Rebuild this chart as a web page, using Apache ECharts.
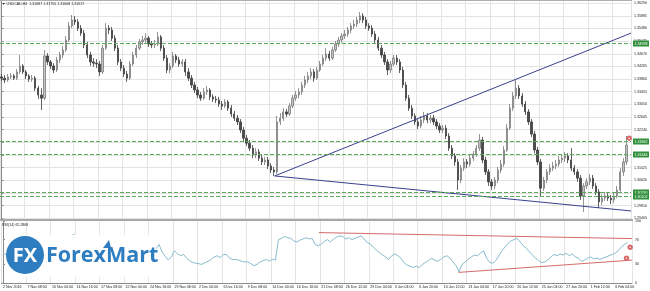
<!DOCTYPE html>
<html><head><meta charset="utf-8">
<script src="https://cdn.jsdelivr.net/npm/echarts@6/dist/echarts.min.js"></script>
<style>html,body{margin:0;padding:0;background:#fff}#c{width:650px;height:291px}</style>
</head><body><div id="c"></div>
<script>
const timeLabels = ["2 Nov 2016","7 Nov 08:00","10 Nov 00:00","14 Nov 16:00","17 Nov 08:00","22 Nov 00:00","24 Nov 16:00","29 Nov 08:00","2 Dec 00:00","6 Dec 16:00","9 Dec 08:00","14 Dec 00:00","16 Dec 16:00","21 Dec 08:00","26 Dec 12:00","29 Dec 04:00","3 Jan 04:00","6 Jan 20:00","10 Jan 12:00","13 Jan 04:00","17 Jan 20:00","20 Jan 12:00","25 Jan 04:00","27 Jan 20:00","1 Feb 12:00","6 Feb 04:00"];
const priceTicks = [1.36290,1.35885,1.35480,1.35075,1.34670,1.34265,1.33860,1.33455,1.33050,1.32645,1.32240,1.31835,1.31430,1.31025,1.30620,1.30215,1.29810,1.29405];
const rsiTicks = [0,30,70,100];
// [open, close, low, high]
const candles = [
[1.3393,1.3389,1.3380,1.3402],[1.3389,1.3383,1.3373,1.3399],[1.3383,1.3393,1.3377,1.3402],[1.3393,1.3396,1.3386,1.3405],[1.3396,1.3389,1.3383,1.3402],
[1.3389,1.3409,1.3383,1.3418],[1.3409,1.3428,1.3402,1.3463],[1.3428,1.3409,1.3402,1.3434],[1.3409,1.3396,1.3386,1.3415],[1.3396,1.3386,1.3377,1.3402],
[1.3386,1.3389,1.3377,1.3399],[1.3389,1.3357,1.3348,1.3396],[1.3357,1.3335,1.3322,1.3364],[1.3335,1.3325,1.3287,1.3357],[1.3325,1.3460,1.3319,1.3479],
[1.3460,1.3441,1.3431,1.3469],[1.3441,1.3428,1.3418,1.3447],[1.3428,1.3415,1.3405,1.3437],[1.3415,1.3447,1.3409,1.3457],[1.3447,1.3463,1.3437,1.3473],
[1.3463,1.3479,1.3453,1.3492],[1.3479,1.3511,1.3473,1.3524],[1.3511,1.3556,1.3505,1.3569],[1.3556,1.3575,1.3549,1.3591],[1.3575,1.3569,1.3559,1.3588],
[1.3569,1.3549,1.3540,1.3578],[1.3549,1.3533,1.3524,1.3559],[1.3533,1.3495,1.3485,1.3543],[1.3495,1.3463,1.3453,1.3505],[1.3463,1.3441,1.3428,1.3473],
[1.3441,1.3437,1.3425,1.3453],[1.3437,1.3434,1.3421,1.3450],[1.3434,1.3409,1.3396,1.3444],[1.3409,1.3485,1.3402,1.3495],[1.3485,1.3549,1.3479,1.3565],
[1.3549,1.3543,1.3530,1.3559],[1.3543,1.3517,1.3508,1.3553],[1.3517,1.3485,1.3476,1.3527],[1.3485,1.3441,1.3431,1.3495],[1.3441,1.3421,1.3412,1.3450],
[1.3421,1.3402,1.3393,1.3431],[1.3402,1.3389,1.3377,1.3412],[1.3389,1.3434,1.3383,1.3444],[1.3434,1.3463,1.3428,1.3473],[1.3463,1.3485,1.3453,1.3495],
[1.3485,1.3505,1.3479,1.3514],[1.3505,1.3511,1.3495,1.3524],[1.3511,1.3517,1.3501,1.3533],[1.3517,1.3498,1.3489,1.3524],[1.3498,1.3495,1.3485,1.3508],
[1.3495,1.3498,1.3485,1.3511],[1.3498,1.3521,1.3492,1.3537],[1.3521,1.3485,1.3476,1.3527],[1.3485,1.3453,1.3444,1.3495],[1.3453,1.3415,1.3405,1.3463],
[1.3415,1.3428,1.3405,1.3437],[1.3428,1.3460,1.3421,1.3473],[1.3460,1.3447,1.3437,1.3466],[1.3447,1.3434,1.3425,1.3457],[1.3434,1.3441,1.3425,1.3450],
[1.3441,1.3409,1.3396,1.3450],[1.3409,1.3389,1.3380,1.3421],[1.3389,1.3367,1.3357,1.3399],[1.3367,1.3351,1.3341,1.3377],[1.3351,1.3335,1.3325,1.3361],
[1.3335,1.3325,1.3316,1.3345],[1.3325,1.3345,1.3319,1.3357],[1.3345,1.3351,1.3335,1.3364],[1.3351,1.3329,1.3319,1.3357],[1.3329,1.3322,1.3313,1.3338],
[1.3322,1.3319,1.3309,1.3332],[1.3319,1.3306,1.3297,1.3329],[1.3306,1.3300,1.3287,1.3316],[1.3300,1.3313,1.3293,1.3322],[1.3313,1.3293,1.3284,1.3319],
[1.3293,1.3274,1.3265,1.3303],[1.3274,1.3261,1.3252,1.3284],[1.3261,1.3249,1.3239,1.3271],[1.3249,1.3223,1.3213,1.3258],[1.3223,1.3197,1.3188,1.3233],
[1.3197,1.3181,1.3172,1.3207],[1.3181,1.3165,1.3156,1.3191],[1.3165,1.3143,1.3133,1.3175],[1.3143,1.3153,1.3133,1.3165],[1.3153,1.3133,1.3124,1.3162],
[1.3133,1.3121,1.3111,1.3143],[1.3121,1.3127,1.3111,1.3137],[1.3127,1.3108,1.3098,1.3137],[1.3108,1.3095,1.3085,1.3117],[1.3095,1.3089,1.3076,1.3105],
[1.3089,1.3249,1.3082,1.3268],[1.3249,1.3261,1.3239,1.3277],[1.3261,1.3281,1.3252,1.3293],[1.3281,1.3274,1.3265,1.3290],[1.3274,1.3300,1.3268,1.3309],
[1.3300,1.3325,1.3293,1.3335],[1.3325,1.3335,1.3316,1.3348],[1.3335,1.3345,1.3325,1.3357],[1.3345,1.3367,1.3335,1.3377],[1.3367,1.3383,1.3357,1.3396],
[1.3383,1.3396,1.3373,1.3409],[1.3396,1.3409,1.3386,1.3421],[1.3409,1.3389,1.3377,1.3418],[1.3389,1.3415,1.3383,1.3425],[1.3415,1.3434,1.3409,1.3444],
[1.3434,1.3453,1.3428,1.3463],[1.3453,1.3466,1.3444,1.3485],[1.3466,1.3453,1.3444,1.3476],[1.3453,1.3479,1.3447,1.3489],[1.3479,1.3498,1.3473,1.3508],
[1.3498,1.3511,1.3489,1.3521],[1.3511,1.3524,1.3501,1.3533],[1.3524,1.3530,1.3514,1.3543],[1.3530,1.3543,1.3521,1.3553],[1.3543,1.3556,1.3533,1.3565],
[1.3556,1.3562,1.3546,1.3575],[1.3562,1.3575,1.3553,1.3585],[1.3575,1.3588,1.3565,1.3601],[1.3588,1.3575,1.3565,1.3597],[1.3575,1.3556,1.3546,1.3585],
[1.3556,1.3549,1.3540,1.3565],[1.3549,1.3530,1.3521,1.3559],[1.3530,1.3511,1.3501,1.3540],[1.3511,1.3485,1.3476,1.3521],[1.3485,1.3463,1.3453,1.3495],
[1.3463,1.3441,1.3431,1.3473],[1.3441,1.3415,1.3399,1.3450],[1.3415,1.3434,1.3405,1.3444],[1.3434,1.3453,1.3428,1.3463],[1.3453,1.3441,1.3431,1.3463],
[1.3441,1.3415,1.3405,1.3450],[1.3415,1.3367,1.3357,1.3425],[1.3367,1.3325,1.3316,1.3377],[1.3325,1.3293,1.3284,1.3335],[1.3293,1.3268,1.3258,1.3303],
[1.3268,1.3249,1.3239,1.3277],[1.3249,1.3236,1.3226,1.3258],[1.3236,1.3255,1.3229,1.3268],[1.3255,1.3268,1.3245,1.3281],[1.3268,1.3255,1.3245,1.3277],
[1.3255,1.3261,1.3245,1.3271],[1.3261,1.3249,1.3239,1.3271],[1.3249,1.3236,1.3226,1.3258],[1.3236,1.3223,1.3213,1.3245],[1.3223,1.3229,1.3213,1.3239],
[1.3229,1.3204,1.3194,1.3239],[1.3204,1.3165,1.3156,1.3213],[1.3165,1.3140,1.3130,1.3175],[1.3140,1.3121,1.3108,1.3149],[1.3121,1.3063,1.3031,1.3130],
[1.3063,1.3101,1.3053,1.3111],[1.3101,1.3121,1.3092,1.3133],[1.3121,1.3114,1.3101,1.3130],[1.3114,1.3133,1.3105,1.3143],[1.3133,1.3146,1.3124,1.3156],
[1.3146,1.3165,1.3137,1.3175],[1.3165,1.3191,1.3156,1.3210],[1.3191,1.3127,1.3117,1.3201],[1.3127,1.3089,1.3079,1.3137],[1.3089,1.3057,1.3044,1.3098],
[1.3057,1.3044,1.3031,1.3066],[1.3044,1.3063,1.3034,1.3073],[1.3063,1.3095,1.3053,1.3105],[1.3095,1.3114,1.3085,1.3127],[1.3114,1.3159,1.3105,1.3172],
[1.3159,1.3229,1.3153,1.3242],[1.3229,1.3293,1.3223,1.3306],[1.3293,1.3332,1.3284,1.3345],[1.3332,1.3357,1.3322,1.3383],[1.3357,1.3332,1.3322,1.3367],
[1.3332,1.3306,1.3297,1.3341],[1.3306,1.3281,1.3271,1.3316],[1.3281,1.3249,1.3239,1.3290],[1.3249,1.3210,1.3201,1.3258],[1.3210,1.3159,1.3149,1.3220],
[1.3159,1.3121,1.3111,1.3169],[1.3121,1.3037,1.3012,1.3130],[1.3037,1.3063,1.3028,1.3073],[1.3063,1.3089,1.3053,1.3098],[1.3089,1.3101,1.3079,1.3114],
[1.3101,1.3108,1.3092,1.3121],[1.3108,1.3114,1.3098,1.3127],[1.3114,1.3127,1.3105,1.3140],[1.3127,1.3133,1.3117,1.3146],[1.3133,1.3140,1.3121,1.3153],
[1.3140,1.3127,1.3117,1.3149],[1.3127,1.3101,1.3092,1.3165],[1.3101,1.3089,1.3079,1.3111],[1.3089,1.3069,1.3057,1.3098],[1.3069,1.3012,1.2999,1.3079],
[1.3012,1.3044,1.2961,1.3053],[1.3044,1.3057,1.3034,1.3069],[1.3057,1.3069,1.3047,1.3082],[1.3069,1.3044,1.3034,1.3079],[1.3044,1.3025,1.3015,1.3053],
[1.3025,1.2993,1.2973,1.3034],[1.2993,1.3005,1.2983,1.3018],[1.3005,1.3012,1.2996,1.3025],[1.3012,1.3005,1.2996,1.3021],[1.3005,1.2999,1.2986,1.3015],
[1.2999,1.3012,1.2989,1.3025],[1.3012,1.3031,1.3005,1.3044],[1.3031,1.3089,1.3025,1.3101],[1.3089,1.3121,1.3076,1.3133],[1.3121,1.3175,1.3111,1.3204]
];
const rsi = [
48,46,50,52,49,55,60,53,49,46,
47,38,32,30,62,57,54,51,58,61,
64,70,76,78,76,70,65,55,48,44,
43,43,38,55,65,63,57,51,44,41,
38,36,46,52,56,59,60,61,56,55,
55,62,50,43,37,42,52,47,44,46,
40,36,33,32,31,30,33,35,38,42,
44,41,46,46,40,38,38,37,35,34,
34,31,28,30,34,36,38,35,38,37,
70,72,75,73,72,68,66,69,71,73,
71,72,62,60,63,67,70,66,71,74,
76,75,71,73,70,72,74,76,71,65,
63,58,53,49,45,42,38,44,47,44,
40,33,29,27,25,27,25,30,33,36,
40,37,35,38,42,44,40,34,28,18,
30,34,38,42,45,44,48,52,40,33,
32,36,44,52,58,64,68,70,72,66,
60,56,50,45,40,36,33,34,37,42,
46,44,47,45,48,44,47,42,40,35,
37,40,42,39,40,38,40,42,44,46,
48,52,58,62,65.2868
];
const levels = [1.34998,1.31862,1.31446,1.30230,1.30102];
const trendUpper = [[89.15,1.3076],[205.5,1.3533]];
const trendLower = [[89.15,1.3076],[205.5,1.2964]];
const rsiUpper = [[103.2,81.3],[205.5,71.6]];
const rsiLower = [[148.8,17.1],[205.5,36.9]];
const priceMark = [[204.9,1.3197]];
const rsiMarks = [[204.9,57.7],[203.7,40.0]];

const slots = candles.map((c,i)=>String(i)).concat([String(candles.length)]);
const xmax = slots.length - 0.5;
const FONT = 'Liberation Sans';
const SMALL = 3.6;
const gridColor = '#e4e4e4';
const every8 = (i)=> i % 8 === 0;

const chart = echarts.init(document.getElementById('c'), null, {renderer:'canvas'});
chart.setOption({
  animation:false,
  backgroundColor:'#ffffff',
  grid:[
    {left:0, right:18, top:1, height:219},
    {left:0, right:18, top:221, height:62}
  ],
  xAxis:[
    {type:'category', gridIndex:0, data:slots, boundaryGap:true,
     axisLine:{show:false}, axisTick:{show:false}, axisLabel:{show:false},
     splitLine:{show:true, interval:every8, lineStyle:{color:gridColor,width:1}}},
    {type:'category', gridIndex:1, data:slots, boundaryGap:true,
     axisLine:{show:true, lineStyle:{color:'#8a8a8a',width:1}}, axisTick:{show:false},
     axisLabel:{show:true, interval:every8, formatter:(v,i)=> timeLabels[i/8] || '', align:'left',
       fontSize:SMALL, fontFamily:FONT, color:'#222', margin:2},
     splitLine:{show:true, interval:every8, lineStyle:{color:gridColor,width:1}}},
    {type:'value', gridIndex:0, min:-0.5, max:xmax, show:false},
    {type:'value', gridIndex:1, min:-0.5, max:xmax, show:false}
  ],
  yAxis:[
    {type:'value', gridIndex:0, position:'right', min:1.2935, max:1.36358, scale:true,
     axisLine:{show:true, lineStyle:{color:'#8a8a8a',width:1}},
     axisTick:{show:true, length:2, customValues:priceTicks, lineStyle:{color:'#8a8a8a'}},
     axisLabel:{show:true, customValues:priceTicks, formatter:(v)=>v.toFixed(5), fontSize:SMALL, fontFamily:FONT, color:'#222', margin:3},
     splitLine:{show:true, lineStyle:{color:gridColor,width:1}}},
    {type:'value', gridIndex:1, position:'right', min:0, max:100,
     axisLine:{show:true, lineStyle:{color:'#8a8a8a',width:1}},
     axisTick:{show:true, length:2, customValues:rsiTicks, lineStyle:{color:'#8a8a8a'}},
     axisLabel:{show:true, customValues:rsiTicks, fontSize:SMALL, fontFamily:FONT, color:'#222', margin:3},
     splitLine:{show:false}}
  ],
  series:[
    {type:'candlestick', xAxisIndex:0, yAxisIndex:0, data:candles, barWidth:1.8,
     itemStyle:{color:'#c4c4c4', color0:'#4a4a4a', borderColor:'#7a7a7a', borderColor0:'#3c3c3c', borderWidth:0.8},
     markLine:{silent:true, precision:5, symbol:['none','none'], animation:false,
       lineStyle:{type:[4,2], color:'#5aab5a', width:1},
       label:{show:true, position:'end', distance:2, formatter:(p)=>Number(p.value).toFixed(5),
         backgroundColor:'#2f8f3a', color:'#fff', fontSize:SMALL, fontFamily:FONT, padding:[1,1.5]},
       data:levels.map(v=>({yAxis:v}))}},
    {type:'line', xAxisIndex:2, yAxisIndex:0, data:trendUpper, symbol:'none', lineStyle:{color:'#3b3f8f',width:1}},
    {type:'line', xAxisIndex:2, yAxisIndex:0, data:trendLower, symbol:'none', lineStyle:{color:'#3b3f8f',width:1}},
    {type:'scatter', xAxisIndex:2, yAxisIndex:0, data:priceMark, symbol:'emptyCircle', symbolSize:3.5, itemStyle:{color:'#d04040'}},
    {type:'line', xAxisIndex:1, yAxisIndex:1, data:rsi, symbol:'none', lineStyle:{color:'#86bccd',width:1}},
    {type:'line', xAxisIndex:3, yAxisIndex:1, data:rsiUpper, symbol:'none', lineStyle:{color:'#d46a6a',width:1}},
    {type:'line', xAxisIndex:3, yAxisIndex:1, data:rsiLower, symbol:'none', lineStyle:{color:'#d46a6a',width:1}},
    {type:'scatter', xAxisIndex:3, yAxisIndex:1, data:rsiMarks, symbol:'emptyCircle', symbolSize:3.5, itemStyle:{color:'#d04040'}}
  ],
  graphic:[
    {type:'line', z:100, shape:{x1:0,y1:0.5,x2:632,y2:0.5}, style:{stroke:'#b0b0b0',lineWidth:1}},
    {type:'rect', z:100, shape:{x:0,y:219,width:633,height:2}, style:{fill:'#a8a8a8'}},
    {type:'text', z:100, x:2, y:2, style:{text:'\u25BC USDCAD,H4  1.31687 1.31755 1.31608 1.31617', font:SMALL+'px "'+FONT+'"', fill:'#222'}},
    {type:'text', z:100, x:2, y:222.5, style:{text:'RSI(14) 65.2868', font:SMALL+'px "'+FONT+'"', fill:'#222'}},
    {type:'rect', z:100, shape:{x:6,y:235,width:150,height:42}, style:{fill:'#ffffff'}},
    {type:'circle', z:101, shape:{cx:25,cy:255,r:19}, style:{fill:'#2e7dc0'}},
    {type:'text', z:102, x:25, y:256, style:{text:'FX', fill:'#ffffff', font:'bold 20px "Open Sans"', textAlign:'center', textVerticalAlign:'middle'}},
    {type:'text', z:102, x:46, y:256, style:{text:'ForexMart', fill:'#2e7dc0', font:'bold 21.5px "Open Sans"', textVerticalAlign:'middle'}},
    {type:'polygon', z:102, shape:{points:[[103,248],[109,240],[111,248]]}, style:{fill:'#2e7dc0'}}
  ]
});
</script></body></html>
